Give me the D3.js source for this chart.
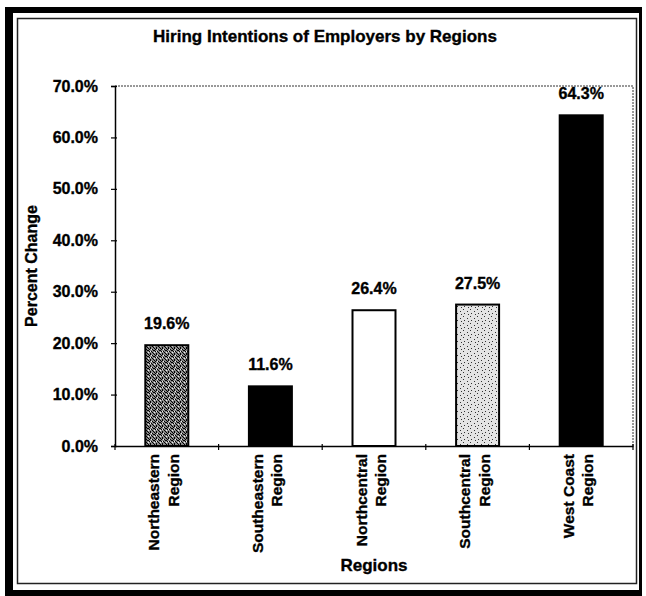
<!DOCTYPE html>
<html lang="en">
<head>
<meta charset="utf-8">
<title>Hiring Intentions of Employers by Regions</title>
<script src="https://cdn.jsdelivr.net/npm/d3@7/dist/d3.min.js"></script>
<style>
  body { margin: 0; background: #fff; }
  text { font-family: "Liberation Sans", Arial, Helvetica, sans-serif; font-weight: bold; fill: #000; stroke: #000; stroke-width: 0.35px; }
</style>
</head>
<body>
<script>
// chart data
var categories = ["Northeastern Region", "Southeastern Region", "Northcentral Region", "Southcentral Region", "West Coast Region"];
var categoryLines = [["Northeastern", "Region"], ["Southeastern", "Region"], ["Northcentral", "Region"], ["Southcentral", "Region"], ["West Coast", "Region"]];
var values = [19.6, 11.6, 26.4, 27.5, 64.3];
var yTicks = [0, 10, 20, 30, 40, 50, 60, 70];
var barFills = ["url(#stippleDark)", "#000", "#fff", "url(#stippleLight)", "#000"];

var width = 646, height = 596;
var plotLeft = 115, plotRight = 633, plotTop = 86, plotBottom = 446;

var svg = d3.select("body").append("svg").attr("width", width).attr("height", height);

// stipple patterns for the scanned grey bars
var defs = svg.append("defs");
var dark = defs.append("pattern").attr("id", "stippleDark")
  .attr("patternUnits", "userSpaceOnUse").attr("width", 6).attr("height", 6);
dark.append("rect").attr("width", 6).attr("height", 6).attr("fill", "#888");
[[0,0],[2,1],[4,0],[1,3],[3,2],[5,3],[0,5],[3,5],[5,1],[2,4],[4,2]].forEach(function (p) {
  dark.append("rect").attr("x", p[0]).attr("y", p[1]).attr("width", 1).attr("height", 1).attr("fill", "#000");
});
[[1,1],[4,4],[0,3]].forEach(function (p) {
  dark.append("rect").attr("x", p[0]).attr("y", p[1]).attr("width", 1).attr("height", 1).attr("fill", "#eee");
});
var light = defs.append("pattern").attr("id", "stippleLight")
  .attr("patternUnits", "userSpaceOnUse").attr("width", 7).attr("height", 7);
light.append("rect").attr("width", 7).attr("height", 7).attr("fill", "#e4e4e4");
[[1,1],[5,3],[2,5],[6,6]].forEach(function (p) {
  light.append("rect").attr("x", p[0]).attr("y", p[1]).attr("width", 1).attr("height", 1).attr("fill", "#333");
});

// outer frame: thick black, then thin inner line
svg.append("rect").attr("x", 5).attr("y", 7).attr("width", 637).attr("height", 589).attr("fill", "#000");
svg.append("rect").attr("x", 13).attr("y", 13).attr("width", 626).attr("height", 577).attr("fill", "#fff");
svg.append("rect").attr("x", 17.5).attr("y", 18.5).attr("width", 619).attr("height", 565)
  .attr("fill", "none").attr("stroke", "#222").attr("stroke-width", 1.5);

// scales
var x = d3.scaleBand().domain(categories).range([plotLeft, plotRight]).paddingInner(0.585).paddingOuter(0.2925);
var y = d3.scaleLinear().domain([0, 70]).range([plotBottom, plotTop]);

// dotted plot frame (top and right)
svg.append("path")
  .attr("d", "M" + plotLeft + "," + y(70) + "H" + plotRight + "V" + y(0))
  .attr("fill", "none").attr("stroke", "#333").attr("stroke-width", 1).attr("stroke-dasharray", "2,1");

// bars
svg.selectAll("rect.bar")
  .data(values)
  .enter()
  .append("rect")
  .attr("class", "bar")
  .attr("x", function (d, i) { return x(categories[i]); })
  .attr("y", function (d) { return y(d); })
  .attr("width", x.bandwidth())
  .attr("height", function (d) { return y(0) - y(d); })
  .attr("fill", function (d, i) { return barFills[i]; })
  .attr("stroke", "#000")
  .attr("stroke-width", 2);

// value labels
svg.selectAll("text.value")
  .data(values)
  .enter()
  .append("text")
  .attr("class", "value")
  .attr("x", function (d, i) { return x(categories[i]) + x.bandwidth() / 2; })
  .attr("y", function (d) { return y(d) - 16; })
  .attr("text-anchor", "middle")
  .style("font-size", "16px")
  .text(function (d) { return d.toFixed(1) + "%"; });

// y axis
var yAxis = d3.axisLeft(y)
  .tickValues(yTicks)
  .tickFormat(function (d) { return d.toFixed(1) + "%"; })
  .tickSize(4)
  .tickPadding(13);
var gy = svg.append("g").attr("transform", "translate(" + plotLeft + ",0)").call(yAxis);
gy.select(".domain").attr("stroke", "#000").attr("stroke-width", 1.5);
gy.selectAll(".tick line").attr("x1", 2).attr("x2", -4).attr("stroke", "#000").attr("stroke-width", 1.2);
gy.selectAll(".tick text").style("font-size", "16px").style("font-family", "Liberation Sans, Arial, sans-serif").style("font-weight", "bold");

// x axis line
var xAxis = d3.axisBottom(x).tickSize(0).tickFormat("");
var gx = svg.append("g").attr("transform", "translate(0," + plotBottom + ")").call(xAxis);
gx.select(".domain").attr("stroke", "#000").attr("stroke-width", 1.5);

// x ticks on category boundaries
var boundaries = d3.range(categories.length + 1).map(function (i) { return plotLeft + i * x.step(); });
gx.selectAll("line.bound")
  .data(boundaries)
  .enter()
  .append("line")
  .attr("class", "bound")
  .attr("x1", function (d) { return d; })
  .attr("x2", function (d) { return d; })
  .attr("y1", -2)
  .attr("y2", 4)
  .attr("stroke", "#000")
  .attr("stroke-width", 1.2);

// category labels, rotated, two lines each
var catLabels = svg.selectAll("text.cat")
  .data(categoryLines)
  .enter()
  .append("text")
  .attr("class", "cat")
  .attr("transform", function (d, i) {
    return "translate(" + (x(categories[i]) + x.bandwidth() / 2) + "," + (plotBottom + 8) + ") rotate(-90)";
  })
  .attr("text-anchor", "end")
  .style("font-size", "15.5px");
catLabels.selectAll("tspan")
  .data(function (d) { return d; })
  .enter()
  .append("tspan")
  .attr("x", 0)
  .attr("y", function (d, j) { return j === 0 ? -7.5 : 12; })
  .text(function (d) { return d; });

// title
svg.append("text")
  .attr("x", 325)
  .attr("y", 42)
  .attr("text-anchor", "middle")
  .style("font-size", "17px")
  .text("Hiring Intentions of Employers by Regions");

// axis titles
svg.append("text")
  .attr("transform", "translate(37," + ((plotTop + plotBottom) / 2) + ") rotate(-90)")
  .attr("text-anchor", "middle")
  .style("font-size", "16px")
  .text("Percent Change");

svg.append("text")
  .attr("x", (plotLeft + plotRight) / 2)
  .attr("y", 571)
  .attr("text-anchor", "middle")
  .style("font-size", "17px")
  .text("Regions");
</script>
</body>
</html>
